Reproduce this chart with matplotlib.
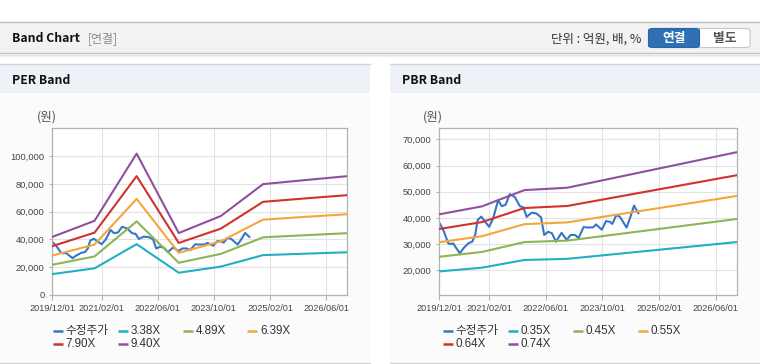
import matplotlib
matplotlib.use('Agg')
import matplotlib.pyplot as plt
from matplotlib.patches import Rectangle, FancyBboxPatch
from matplotlib.lines import Line2D
import pandas as pd

W, H = 760, 364

# ---------------- data ----------------
xtick_dates = ['2019-12-01', '2021-02-01', '2022-06-01', '2023-10-01', '2025-02-01', '2026-06-01']
xtick_labels = ['2019/12/01', '2021/02/01', '2022/06/01', '2023/10/01', '2025/02/01', '2026/06/01']

# PER band: EPS (원) at band knots
eps_dates = ['2019-12-01', '2020-12-01', '2021-12-01', '2022-12-01', '2023-12-01',
             '2024-12-01', '2025-12-01', '2026-12-01']
eps = [4450, 5680, 10830, 4745, 6050, 8490, 8800, 9100]
per_multiples = [3.38, 4.89, 6.39, 7.90, 9.40]
per_labels = ['3.38X', '4.89X', '6.39X', '7.90X', '9.40X']

# PBR band: BPS (원) at band knots
bps_dates = ['2019-12-01', '2020-12-01', '2021-12-01', '2022-12-01', '2026-12-01']
bps = [55900, 60000, 68400, 69600, 88000]
pbr_multiples = [0.35, 0.45, 0.55, 0.64, 0.74]
pbr_labels = ['0.35X', '0.45X', '0.55X', '0.64X', '0.74X']

# 수정주가 (adjusted price)
price_dates = ['2019-12-01', '2020-01-04', '2020-02-16', '2020-03-10', '2020-03-28', '2020-05-25',
               '2020-06-25', '2020-08-07', '2020-09-10', '2020-10-04', '2020-10-25', '2020-11-25',
               '2020-12-28', '2021-02-01', '2021-03-07', '2021-04-19', '2021-05-19', '2021-06-22',
               '2021-07-28', '2021-09-10', '2021-10-22', '2021-11-22', '2021-12-19', '2022-02-01',
               '2022-03-13', '2022-04-22', '2022-05-19', '2022-06-22', '2022-07-25', '2022-08-28',
               '2022-10-15', '2022-11-28', '2023-01-01', '2023-02-07', '2023-03-10', '2023-04-22',
               '2023-06-01', '2023-07-13', '2023-08-07', '2023-09-25', '2023-11-01', '2023-12-04',
               '2023-12-25', '2024-01-28', '2024-02-28', '2024-04-25', '2024-05-28', '2024-06-28',
               '2024-07-19', '2024-08-04']
price = [38200, 35400, 30300, 30000, 30300, 26500,
         28400, 30300, 31000, 33500, 39200, 40500,
         38500, 36600, 39800, 46800, 44500, 45000,
         49100, 47900, 44500, 44000, 40400, 42000,
         41700, 40200, 33500, 34700, 34100, 30900,
         34300, 31600, 33500, 33500, 32300, 36500,
         36300, 36400, 37500, 35500, 38800, 38500,
         37700, 41100, 40400, 36300, 40400, 44700,
         43000, 41800]

price_label = '수정주가'
band_colors = ['#1fb0c3', '#8cb553', '#f3a73b', '#d0322e', '#8f509d']
price_color = '#3676c6'

per_yticks = [0, 20000, 40000, 60000, 80000, 100000]
pbr_yticks = [20000, 30000, 40000, 50000, 60000, 70000]

# ---------------- figure ----------------
fig = plt.figure(figsize=(W / 100, H / 100), dpi=100)
fig.patch.set_facecolor('white')

FONT_LAT = ['Liberation Sans', 'Noto Sans CJK KR', 'DejaVu Sans']
FONT_KR = ['Noto Sans CJK KR', 'DejaVu Sans']


def fx(px):
    return px / W


def fy(py):
    return 1 - py / H


def rect(x0, y0, x1, y1, color, z=-5, **kw):
    fig.add_artist(Rectangle((fx(x0), fy(y1)), fx(x1) - fx(x0), fy(y0) - fy(y1),
                             transform=fig.transFigure, facecolor=color,
                             edgecolor='none', zorder=z, **kw))


def hline(x0, x1, y, color, lw=0.8, z=-4):
    fig.add_artist(Line2D([fx(x0), fx(x1)], [fy(y), fy(y)], transform=fig.transFigure,
                          color=color, lw=lw, zorder=z))


def text(x, y, s, **kw):
    fig.text(fx(x), fy(y), s, transform=fig.transFigure, **kw)


# top bar
rect(0, 22, W, 53, '#f2f2f2')
hline(0, W, 22.3, '#bcbcbc', 1.0)
hline(0, W, 53.3, '#c4c4c4', 1.0)
hline(0, W, 54.5, '#e2e2e2', 1.0)
hline(0, W, 55.5, '#f1f1f1', 1.0)
text(12, 38.5, 'Band Chart', family=FONT_KR, weight='bold', fontsize=8.8, color='#111111',
     va='center', ha='left')
text(88, 38.5, '[연결]', family=FONT_KR, fontsize=8.6, color='#8a8a8a', va='center', ha='left')
text(641.5, 39, '단위 : 억원, 배, %', family=FONT_KR, fontsize=9, color='#333333',
     va='center', ha='right')

# buttons
fig.add_artist(FancyBboxPatch((fx(648.5), fy(47.5)), fx(750) - fx(648.5), fy(28.5) - fy(47.5),
                              boxstyle='round,pad=0,rounding_size=0.006',
                              transform=fig.transFigure, facecolor='white',
                              edgecolor='#c6c6c6', lw=0.8, zorder=-3))
fig.add_artist(FancyBboxPatch((fx(648.5), fy(47.5)), fx(699.5) - fx(648.5), fy(28.5) - fy(47.5),
                              boxstyle='round,pad=0,rounding_size=0.006',
                              transform=fig.transFigure, facecolor='#2f70b5',
                              edgecolor='#2a64a3', lw=0.8, zorder=-2))
text(674, 38.5, '연결', family=FONT_KR, weight='bold', fontsize=9.2, color='white',
     va='center', ha='center')
text(724.5, 38.5, '별도', family=FONT_KR, weight='bold', fontsize=9.2, color='#555555',
     va='center', ha='center')

# panels
for (x0, x1) in [(0, 370), (390, 760)]:
    rect(x0, 64, x1, 363, '#fbfbfb')
    rect(x0, 64, x1, 93, '#eef2f8')
    hline(x0, x1, 64.3, '#d6d6d6', 1.0)
    hline(x0, x1, 363.3, '#d6d6d6', 1.0)

text(12, 80, 'PER Band', family=FONT_KR, weight='bold', fontsize=8.8, color='#111111',
     va='center', ha='left')
text(401.5, 80, 'PBR Band', family=FONT_KR, weight='bold', fontsize=8.8, color='#111111',
     va='center', ha='left')


def make_axes(left_px, right_px, top_px, bottom_px):
    return fig.add_axes([fx(left_px), fy(bottom_px), fx(right_px) - fx(left_px),
                         fy(top_px) - fy(bottom_px)])


def style_axes(ax, ylim, yticks):
    ax.set_facecolor('white')
    ax.set_xlim(pd.Timestamp('2019-12-01'), pd.Timestamp('2026-12-01'))
    ax.set_ylim(*ylim)
    ax.set_yticks(yticks)
    ax.set_yticklabels([f'{v:,}' for v in yticks], family=FONT_LAT)
    ax.set_xticks(pd.to_datetime(xtick_dates))
    ax.set_xticklabels(xtick_labels, family=FONT_LAT)
    ax.grid(True, color='#e3e3e3', lw=0.8)
    ax.set_axisbelow(True)
    for s in ax.spines.values():
        s.set_color('#b3b3b3')
        s.set_linewidth(0.9)
    ax.tick_params(axis='x', length=3.6, width=0.8, color='#b3b3b3', pad=3.0,
                   labelsize=6.6, labelcolor='#444444')
    ax.tick_params(axis='y', length=2.2, width=0.8, color='#b3b3b3', pad=3.5,
                   labelsize=6.7, labelcolor='#444444')


def legend(x_cols, rows_y, labels, colors):
    for i, (lab, col) in enumerate(zip(labels, colors)):
        r, c = divmod(i, 4)
        x = x_cols[c]
        y = rows_y[r]
        fig.add_artist(Line2D([fx(x), fx(x + 10)], [fy(y), fy(y)], transform=fig.transFigure,
                              color=col, lw=1.8, solid_capstyle='butt'))
        text(x + 13, y, lab, family=FONT_LAT, fontsize=8.4, color='#333333',
             va='center', ha='left')


pdates = pd.to_datetime(price_dates)

# PER axes
ax1 = make_axes(52.3, 347.3, 128.3, 295)
style_axes(ax1, (0, 120000), per_yticks)
ax1.plot(pdates, price, color=price_color, lw=1.5, zorder=2)
edates = pd.to_datetime(eps_dates)
for m, col in zip(per_multiples, band_colors):
    ax1.plot(edates, [m * v for v in eps], color=col, lw=1.5, zorder=3)
text(36.5, 117, '(원)', family=FONT_KR, fontsize=9, color='#555555', va='center', ha='left')
legend([52.7, 117.7, 182.7, 247.3], [330.7, 344], [price_label] + per_labels,
       [price_color] + band_colors)

# PBR axes
ax2 = make_axes(439.3, 737.3, 128.3, 295)
style_axes(ax2, (10570, 74200), pbr_yticks)
ax2.plot(pdates, price, color=price_color, lw=1.5, zorder=2)
bdates = pd.to_datetime(bps_dates)
for m, col in zip(pbr_multiples, band_colors):
    ax2.plot(bdates, [m * v for v in bps], color=col, lw=1.5, zorder=3)
text(423, 117, '(원)', family=FONT_KR, fontsize=9, color='#555555', va='center', ha='left')
legend([442.7, 507.7, 572.7, 637.7], [330.7, 344], [price_label] + pbr_labels,
       [price_color] + band_colors)

fig.savefig('out.png', dpi=100)
